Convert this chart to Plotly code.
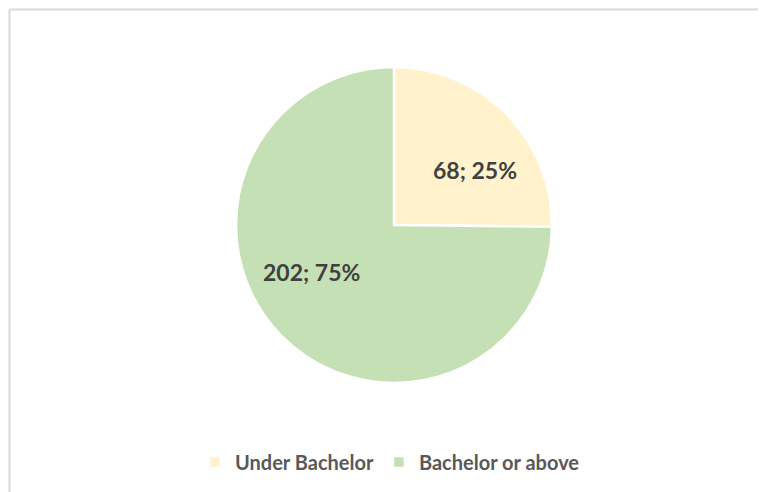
import plotly.graph_objects as go

categories = ["Under Bachelor", "Bachelor or above"]
counts = [68, 202]
percents = [25, 75]
colors = ["#FFF2CC", "#C5E0B4"]

W, H = 766, 492
OFF = 8  # page offset of the figure inside the browser window
cx, cy, r = 394 - OFF, 225 - OFF, 158

fig = go.Figure()
fig.add_trace(go.Pie(
    labels=categories,
    values=counts,
    sort=False,
    direction="clockwise",
    rotation=0,
    marker=dict(colors=colors, line=dict(color="white", width=2.5)),
    textinfo="none",
    hoverinfo="label+value+percent",
    domain=dict(x=[(cx - r) / W, (cx + r) / W], y=[(H - cy - r) / H, (H - cy + r) / H]),
    showlegend=True,
))

# data labels (positions chosen to match the reference layout)
label_pos = [(475 - OFF, 170 - OFF), (311 - OFF, 272 - OFF)]
for (lx, ly), c, p in zip(label_pos, counts, percents):
    fig.add_annotation(
        x=lx / W, y=1 - ly / H, xref="paper", yref="paper",
        text=f"<b>{c}; {p}%</b>", showarrow=False,
        font=dict(family="Lato", size=23, color="#404040"),
        xanchor="center", yanchor="middle",
    )

# chart frame (only top and left edges visible in the reference)
frame = "#D9D9D9"
fig.add_shape(type="line", xref="paper", yref="paper",
              x0=1.5 / W, x1=1.0, y0=1 - 1.5 / H, y1=1 - 1.5 / H,
              line=dict(color=frame, width=2))
fig.add_shape(type="line", xref="paper", yref="paper",
              x0=1.5 / W, x1=1.5 / W, y0=1 - 1.5 / H, y1=0,
              line=dict(color=frame, width=2))

fig.update_layout(
    width=W, height=H,
    margin=dict(l=0, r=0, t=0, b=0),
    paper_bgcolor="white",
    plot_bgcolor="white",
    font=dict(family="Lato", color="#595959"),
    legend=dict(
        orientation="h",
        x=187 / W, xanchor="left",
        y=1 - (462 - OFF) / H, yanchor="middle",
        font=dict(family="Lato", size=20, color="#595959", weight="bold"),
        traceorder="normal",
    ),
)

fig.write_html("out.html")
